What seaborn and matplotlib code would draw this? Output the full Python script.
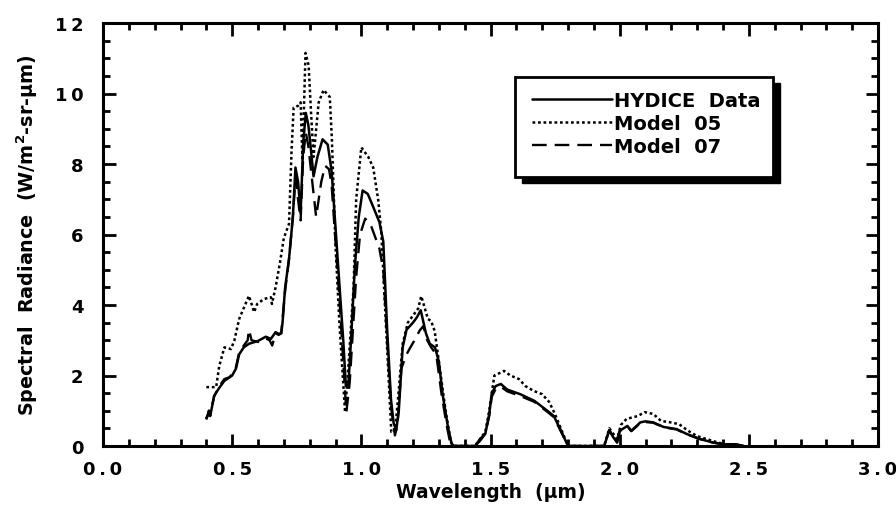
import matplotlib
matplotlib.use("Agg")
import matplotlib.pyplot as plt
from matplotlib.patches import Rectangle
from matplotlib.ticker import MultipleLocator, FixedLocator, FixedFormatter
import seaborn as sns

# ---------------- data ----------------
hydice_x = [0.40, 0.405, 0.41, 0.415, 0.43, 0.45, 0.47, 0.49, 0.50, 0.515, 0.527, 0.545,
            0.565, 0.60, 0.63, 0.65, 0.668, 0.68, 0.69, 0.695, 0.705, 0.72, 0.735, 0.745,
            0.755, 0.765, 0.775, 0.785, 0.795, 0.805, 0.815, 0.83, 0.85, 0.87, 0.885,
            0.90, 0.915, 0.93, 0.94, 0.95, 0.96, 0.975, 0.99, 1.005, 1.025, 1.045, 1.07,
            1.085, 1.10, 1.115, 1.125, 1.135, 1.145, 1.16, 1.175, 1.20, 1.215, 1.23,
            1.25, 1.265, 1.285, 1.30, 1.315, 1.335, 1.35, 1.36, 1.44, 1.46, 1.48, 1.495,
            1.505, 1.52, 1.54, 1.565, 1.615, 1.67, 1.72, 1.745, 1.77, 1.80, 1.94, 1.96,
            1.975, 1.99, 2.00, 2.03, 2.045, 2.08, 2.10, 2.13, 2.17, 2.22, 2.26, 2.31,
            2.36, 2.40, 2.45, 2.48]
hydice_y = [0.80, 0.85, 1.00, 0.85, 1.42, 1.65, 1.85, 1.95, 2.00, 2.20, 2.60, 2.80,
            2.90, 2.98, 3.10, 3.04, 3.23, 3.18, 3.20, 3.50, 4.50, 5.30, 6.50, 7.90,
            7.50, 6.60, 8.60, 9.45, 9.10, 8.40, 7.65, 8.20, 8.70, 8.55, 7.80,
            6.20, 4.60, 3.00, 1.70, 1.75, 3.00, 5.10, 6.50, 7.25, 7.15, 6.80, 6.35,
            5.80, 3.30, 1.30, 0.65, 0.45, 1.00, 2.80, 3.30, 3.50, 3.65, 3.85,
            3.20, 2.90, 2.80, 2.40, 1.45, 0.55, 0.05, 0.00, 0.00, 0.20, 0.35, 0.90,
            1.50, 1.70, 1.76, 1.60, 1.47, 1.28, 1.00, 0.85, 0.48, 0.00, 0.00, 0.45,
            0.25, 0.10, 0.43, 0.57, 0.43, 0.67, 0.70, 0.67, 0.54, 0.48, 0.34, 0.20,
            0.10, 0.05, 0.05, 0.00]

model05_x = [0.40, 0.438, 0.45, 0.47, 0.495, 0.508, 0.527, 0.54, 0.565, 0.585, 0.597,
             0.623, 0.65, 0.654, 0.668, 0.685, 0.70, 0.72, 0.73, 0.738, 0.755, 0.765,
             0.772, 0.784, 0.796, 0.805, 0.815, 0.835, 0.854, 0.878, 0.886, 0.90, 0.915,
             0.937, 0.95, 0.97, 0.98, 1.00, 1.027, 1.046, 1.065, 1.077, 1.09, 1.10,
             1.116, 1.13, 1.142, 1.16, 1.18, 1.20, 1.22, 1.232, 1.258, 1.27, 1.284,
             1.30, 1.327, 1.347, 1.36, 1.44, 1.46, 1.48, 1.495, 1.515, 1.553, 1.577,
             1.61, 1.635, 1.668, 1.70, 1.727, 1.75, 1.775, 1.80, 1.94, 1.96, 1.99,
             2.005, 2.027, 2.07, 2.097, 2.13, 2.16, 2.19, 2.23, 2.265, 2.30, 2.335,
             2.38, 2.42, 2.45]
model05_y = [1.67, 1.67, 2.27, 2.80, 2.75, 2.98, 3.60, 3.83, 4.26, 3.80, 4.03,
             4.17, 4.22, 4.03, 4.50, 5.20, 5.90, 6.30, 8.40, 9.60, 9.65, 9.75,
             8.10, 11.15, 10.80, 9.50, 8.20, 9.75, 10.10, 9.90, 8.70, 5.70, 3.50,
             0.96, 2.27, 4.50, 7.00, 8.47, 8.20, 7.90, 7.00, 6.10, 4.20, 2.75,
             0.40, 0.40, 1.33, 2.90, 3.50, 3.70, 3.90, 4.25, 3.60, 3.55, 3.26,
             2.40, 0.96, 0.10, 0.00, 0.00, 0.20, 0.40, 1.00, 2.00, 2.13, 2.00,
             1.90, 1.70, 1.56, 1.47, 1.25, 0.90, 0.45, 0.00, 0.00, 0.50, 0.20,
             0.60, 0.77, 0.85, 0.96, 0.91, 0.71, 0.68, 0.62, 0.43, 0.28, 0.20,
             0.10, 0.03, 0.00]

model07_x = [0.40, 0.41, 0.415, 0.43, 0.45, 0.47, 0.49, 0.50, 0.515, 0.527, 0.545, 0.56,
             0.565, 0.575, 0.60, 0.63, 0.645, 0.655, 0.668, 0.68, 0.69, 0.705, 0.72,
             0.735, 0.745, 0.755, 0.765, 0.775, 0.785, 0.795, 0.81, 0.825, 0.845, 0.86,
             0.875, 0.885, 0.90, 0.915, 0.93, 0.942, 0.955, 0.965, 0.98, 0.995, 1.015,
             1.035, 1.05, 1.07, 1.085, 1.10, 1.115, 1.13, 1.14, 1.155, 1.175, 1.19,
             1.21, 1.226, 1.24, 1.255, 1.27, 1.29, 1.31, 1.33, 1.345, 1.36, 1.44, 1.46,
             1.48, 1.495, 1.505, 1.52, 1.54, 1.565, 1.615, 1.67, 1.72, 1.745, 1.77,
             1.80, 1.94, 1.96, 1.975, 1.99, 2.00, 2.03, 2.045, 2.08, 2.10, 2.13, 2.17,
             2.22, 2.26, 2.31, 2.36, 2.40, 2.45, 2.48]
model07_y = [0.75, 1.00, 0.90, 1.40, 1.70, 1.90, 1.95, 2.05, 2.25, 2.65, 2.85, 3.00,
             3.30, 3.00, 2.95, 3.05, 3.00, 2.85, 3.20, 3.15, 3.20, 4.40, 5.30,
             6.50, 7.60, 7.00, 6.40, 8.20, 8.90, 8.50, 7.50, 6.50, 7.50, 7.95,
             7.85, 7.40, 5.80, 4.20, 2.40, 0.96, 1.80, 3.00, 4.80, 6.00, 6.45,
             6.30, 6.00, 5.60, 5.00, 3.00, 1.10, 0.30, 0.60, 2.20, 2.60, 2.80,
             3.05, 3.28, 3.40, 3.00, 2.80, 2.60, 1.50, 0.60, 0.05, 0.00, 0.00, 0.15,
             0.35, 0.85, 1.40, 1.62, 1.68, 1.55, 1.42, 1.25, 0.97, 0.82, 0.45,
             0.00, 0.00, 0.45, 0.25, 0.10, 0.42, 0.55, 0.42, 0.65, 0.68, 0.66, 0.53,
             0.47, 0.33, 0.20, 0.10, 0.05, 0.04, 0.00]

series_labels = ["HYDICE  Data", "Model  05", "Model  07"]

x_ticks = [0.0, 0.5, 1.0, 1.5, 2.0, 2.5, 3.0]
x_tick_labels = ["0\u2009.\u20090", "0\u2009.\u20095", "1\u2009.\u20090", "1\u2009.\u20095",
                 "2\u2009.\u20090", "2\u2009.\u20095", "3\u2009.\u20090"]
y_ticks = [0, 2, 4, 6, 8, 10, 12]
y_tick_labels = ["0", "2", "4", "6", "8", "1\u20090", "1\u20092"]

x_label = "Wavelength  (\u03bcm)"
y_label = "Spectral  Radiance  (W/m$^\\mathbf{2}$-sr-\u03bcm)"

# ---------------- plot ----------------
sns.set_theme(style="ticks")
plt.rcParams["font.family"] = ["DejaVu Sans"]
plt.rcParams["font.weight"] = "bold"
plt.rcParams["mathtext.default"] = "bf"
plt.rcParams["mathtext.fontset"] = "dejavusans"
for key in ["text.color", "axes.labelcolor", "xtick.color", "ytick.color",
            "axes.edgecolor", "xtick.labelcolor", "ytick.labelcolor"]:
    plt.rcParams[key] = "black"

fig = plt.figure(figsize=(8.96, 5.10), dpi=100)
ax = fig.add_axes([103 / 896, 63 / 510, 775 / 896, 423 / 510])

sns.lineplot(x=hydice_x, y=hydice_y, ax=ax, color="black", linewidth=1.8,
             linestyle="-", sort=False, estimator=None, label=series_labels[0])
sns.lineplot(x=model05_x, y=model05_y, ax=ax, color="black", linewidth=1.8,
             linestyle=(0, (1.1, 1.1)), sort=False, estimator=None, label=series_labels[1])
sns.lineplot(x=model07_x, y=model07_y, ax=ax, color="black", linewidth=1.7,
             linestyle=(0, (6.2, 3.4)), sort=False, estimator=None, label=series_labels[2])

ax.set_xlim(0, 3.0)
ax.set_ylim(0, 12)
ax.xaxis.set_major_locator(FixedLocator(x_ticks))
ax.xaxis.set_major_formatter(FixedFormatter(x_tick_labels))
ax.yaxis.set_major_locator(FixedLocator(y_ticks))
ax.yaxis.set_major_formatter(FixedFormatter(y_tick_labels))
ax.xaxis.set_minor_locator(MultipleLocator(0.1))
ax.yaxis.set_minor_locator(MultipleLocator(0.5))

ax.tick_params(which="both", direction="in", top=True, right=True, color="black",
               width=2.0)
ax.tick_params(which="major", length=9, labelsize=13, labelcolor="black")
ax.tick_params(axis="x", which="major", pad=10)
ax.tick_params(axis="y", which="major", pad=14)
ax.tick_params(which="minor", length=5)
for lab in ax.get_xticklabels() + ax.get_yticklabels():
    lab.set_fontweight("bold")

for sp in ax.spines.values():
    sp.set_linewidth(2.2)
    sp.set_color("black")
    sp.set_visible(True)

ax.set_xlabel(x_label, fontsize=13.5, fontweight="bold", labelpad=3, color="black")
ax.set_ylabel(y_label, fontsize=13.8, fontweight="bold", labelpad=11, color="black")

# legend box with solid drop shadow (frame drawn in axes fraction coordinates)
bx0, bx1 = (515 - 103) / 775, (773 - 103) / 775
by0, by1 = (447 - 178) / 423, (447 - 78) / 423
sdx, sdy = 6.5 / 775, 6 / 423
ax.add_patch(Rectangle((bx0 + sdx, by0 - sdy), bx1 - bx0, by1 - by0,
                       transform=ax.transAxes, facecolor="black", edgecolor="black",
                       zorder=5))
ax.add_patch(Rectangle((bx0, by0), bx1 - bx0, by1 - by0, transform=ax.transAxes,
                       facecolor="white", edgecolor="black", linewidth=2.0, zorder=6))

leg = ax.legend(loc="upper left", bbox_to_anchor=((532 - 103) / 775, (447 - 92) / 423),
                frameon=False, borderaxespad=0, borderpad=0, handlelength=4.1,
                handletextpad=0.1, labelspacing=0.2,
                prop={"weight": "bold", "size": 14})
leg.set_zorder(7)
for t in leg.get_texts():
    t.set_color("black")

fig.savefig("out.png", dpi=100, facecolor="white")
